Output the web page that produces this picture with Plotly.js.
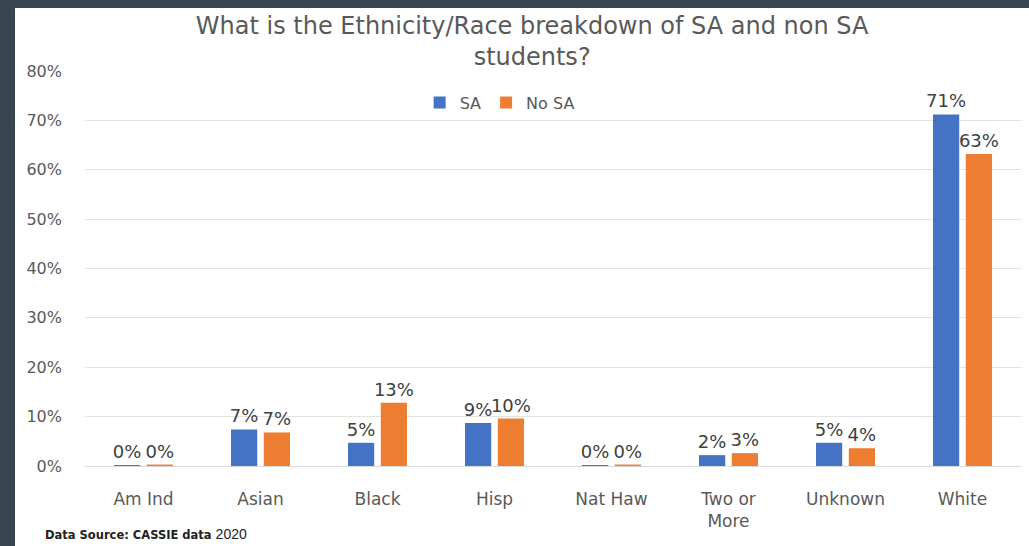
<!DOCTYPE html>
<html>
<head>
<meta charset="utf-8">
<script src="https://cdn.plot.ly/plotly-3.0.1.min.js"></script>
<style>
  html, body { margin: 0; padding: 0; background: #36454f; width: 1029px; height: 546px; overflow: hidden; }
  #chart { position: absolute; left: 15px; top: 8px; width: 1014px; height: 538px; background: #fff; }
  #src { position: absolute; left: 45px; top: 525px; color: #222; white-space: nowrap; }
  #src b { font-family: "DejaVu Sans", sans-serif; font-size: 11.5px; font-weight: bold; }
  #src span { font-family: "Liberation Sans", Arial, sans-serif; font-size: 14px; }
</style>
</head>
<body>
<div id="chart"></div>
<div id="src"><b>Data Source: CASSIE data</b> <span>2020</span></div>
<script>
const categories = ["Am Ind", "Asian", "Black", "Hisp", "Nat Haw", "Two or<br>More", "Unknown", "White"];
const saValues = [0.2, 7.4, 4.7, 8.7, 0.2, 2.2, 4.7, 71.2];
const noSaValues = [0.3, 6.8, 12.8, 9.6, 0.3, 2.6, 3.6, 63.2];
const seriesNames = ["SA", "No SA"];
const yTicks = [0, 10, 20, 30, 40, 50, 60, 70, 80];

const FONT = '"DejaVu Sans", "Open Sans", sans-serif';
const labelFont = { family: FONT, size: 18, color: '#404040' };

const traces = [
  { type: 'bar', name: seriesNames[0], x: categories, y: saValues,
    marker: { color: '#4472C4' }, texttemplate: '%{y:.0f}%', textposition: 'outside',
    constraintext: 'none', textfont: labelFont, cliponaxis: false, hoverinfo: 'x+y' },
  { type: 'bar', name: seriesNames[1], x: categories, y: noSaValues,
    marker: { color: '#ED7D31' }, texttemplate: '%{y:.0f}%', textposition: 'outside',
    constraintext: 'none', textfont: labelFont, cliponaxis: false, hoverinfo: 'x+y' }
];

const layout = {
  width: 1014, height: 538,
  paper_bgcolor: '#ffffff', plot_bgcolor: '#ffffff',
  margin: { l: 70, r: 8, t: 63, b: 80 },
  font: { family: FONT, color: '#595959' },
  title: { text: 'What is the Ethnicity/Race breakdown of SA and non SA<br>students?',
           font: { family: FONT, size: 24, color: '#595959' },
           x: 0.51, xanchor: 'center', y: 0.952, yanchor: 'top', yref: 'container' },
  barmode: 'group', bargap: 0.44, bargroupgap: 0.2,
  showlegend: true,
  legend: { orientation: 'h', x: 0.443, xanchor: 'center', y: 0.92, yanchor: 'middle',
            font: { family: FONT, size: 16, color: '#595959' }, bgcolor: 'rgba(0,0,0,0)',
            itemwidth: 30, traceorder: 'normal' },
  xaxis: { tickfont: { family: FONT, size: 17, color: '#595959' }, showline: false,
           showgrid: false, ticks: '', ticklabelstandoff: 21, fixedrange: true },
  yaxis: { range: [0, 80], tickvals: yTicks, ticktext: yTicks.map(v => v + '%'),
           tickfont: { family: FONT, size: 16, color: '#595959' },
           gridcolor: '#e3e3e3', gridwidth: 1, zeroline: true, zerolinecolor: '#d9d9d9',
           showline: false, ticks: '', ticklabelstandoff: 22, fixedrange: true }
};

Plotly.newPlot('chart', traces, layout, { displayModeBar: false, staticPlot: true });
</script>
</body>
</html>
